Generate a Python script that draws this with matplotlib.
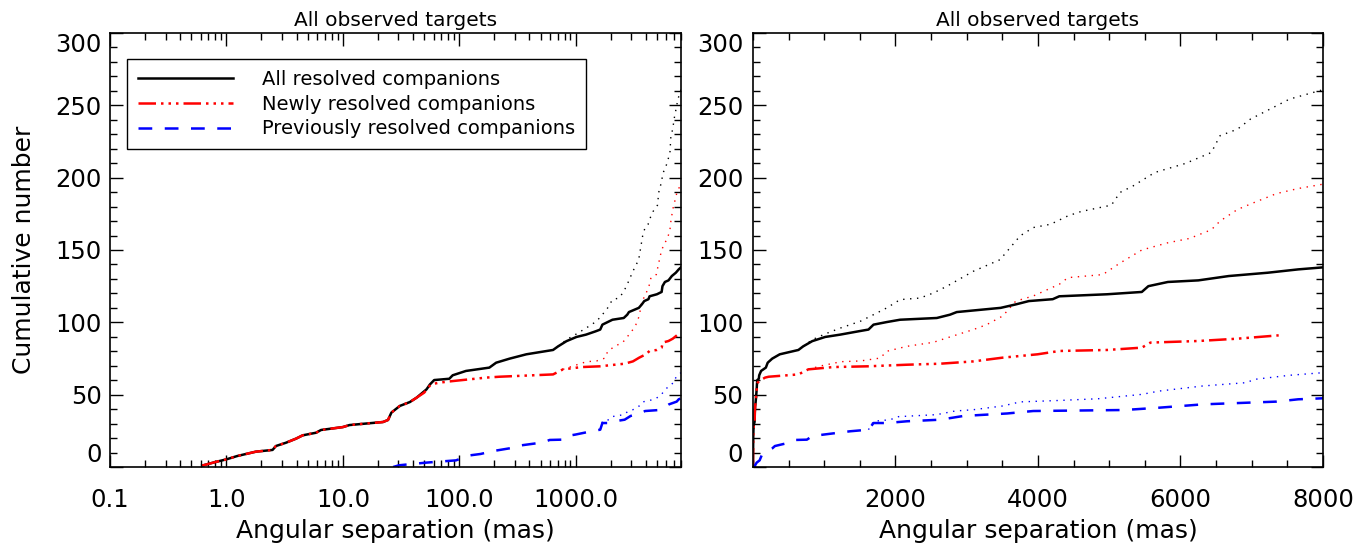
#
# Cumulative number of resolved companions vs angular separation
#

import matplotlib
matplotlib.use("Agg")
from matplotlib import pyplot as plt
from matplotlib.ticker import LogLocator, MultipleLocator, NullFormatter, FixedLocator

# All resolved companions (solid black), separations in mas
sep_all = [0.62, 0.81, 1.0, 1.24, 1.79, 2.49, 2.66, 3.25, 3.96, 4.52, 5.89, 6.5,
           10.0, 11.4, 22.1, 24.4, 26.1, 30.8, 37.6, 42.9, 52.3, 55.8, 60.8, 82,
           87.7, 114, 181, 207, 270, 376, 638, 705, 832, 1014, 1224, 1481, 1621,
           1692, 1879, 2065, 2580, 2766, 2860, 3476, 3689, 3872, 4207, 4299, 4970,
           5457, 5549, 5823, 6250, 6677, 7226, 7652, 8000]
n_all = [1, 3.5, 5.3, 7.6, 10.6, 11.8, 14.5, 16.8, 19.6, 21.9, 23.7, 25.6,
         27.6, 29, 31.1, 32.5, 37.6, 42.2, 44.9, 47.9, 53.7, 57, 60.1, 61,
         63.4, 66.4, 68.7, 72.1, 74.9, 77.9, 80.9, 83.4, 87, 89.9, 91.5, 93.8, 95,
         98.4, 100.2, 101.8, 103, 105.3, 107.1, 110, 112.4, 114.7, 116, 118, 119.4,
         121, 125, 127.9, 129, 132, 134.3, 136.6, 138]

# dotted black
sep_all_dot = [705, 832, 1014, 1224, 1505, 1692, 1879, 2065, 2346, 2533, 2720,
               3093, 3467, 3750, 3933, 4177, 4421, 4604, 5030, 5152, 5335, 5640,
               6067, 6433, 6555, 6799, 6982, 7348, 7530, 8000]
n_all_dot = [83.4, 88, 92, 96, 100.7, 105.3, 110, 115.7, 116.8, 120.3, 124.9,
             135.3, 143.3, 159.8, 165.5, 167.8, 173.6, 176.6, 181, 189.8, 194.3, 203.6,
             209.8, 217.4, 229, 233.5, 240.5, 249.7, 254.3, 260.8]

# Newly resolved companions (red), same as all up to ~43 mas
sep_new = sep_all[:20] + [49.9, 57, 67, 87.7, 170, 221, 638, 777, 1131, 1610,
                          2159, 2626, 3093, 3506, 3994, 4299, 4970, 5457, 5579,
                          6250, 6799, 7378]
n_new = n_all[:20] + [51.4, 57.1, 58.3, 59.4, 61.8, 62.4, 64, 67.5, 69.1, 69.6,
                      70.7, 71.4, 73, 75.6, 77.9, 80.2, 80.9, 82.5, 86,
                      87.1, 88.7, 91]

sep_new_dot = [777, 945, 1236, 1507, 1785, 1879, 2159, 2533, 2720, 3093, 3280,
               3506, 3689, 3933, 4299, 4421, 4909, 5152, 5457, 5823, 6128, 6433,
               6555, 6799, 7043, 7348, 7652, 8000]
n_new_dot = [67.5, 69.8, 72.8, 73.3, 75.3, 80, 83.4, 86.2, 89.2, 95, 98.4,
             104.4, 114.7, 118.2, 126.3, 130.9, 133, 141, 150, 155, 158, 164,
             170, 178, 183, 189, 192.5, 195.5]

# Previously resolved companions (blue)
sep_prev = [27, 30.4, 51.6, 93.6, 122, 152, 194, 274, 308, 523, 597, 757, 832,
            990, 1364, 1621, 1692, 1879, 2159, 2626, 2957, 3567, 3933, 5213,
            5701, 6311, 7348, 7652, 8000]
n_prev = [0, 1.2, 3, 4.6, 8, 9, 11, 13, 14.5, 17, 18.7, 18.9, 21.4,
          22.4, 24.7, 25.8, 30.4, 30.4, 31.6, 32.7, 35.3, 37, 38.7, 39.4,
          41, 43.3, 45.2, 46.8, 47.5]

sep_prev_dot = [1621, 1692, 1925, 2043, 2580, 2835, 3093, 3506, 3750, 4299,
                4848, 5213, 5457, 5701, 6311, 6921, 7043, 7530, 8000]
n_prev_dot = [25.8, 31.6, 32.7, 34.8, 36.2, 38.7, 39.6, 42.2, 45, 46,
              47.2, 49, 50.2, 52.5, 56, 58.3, 60.6, 63.4, 65.2]

log_ticks = [0.1, 1.0, 10.0, 100.0, 1000.0]
log_labels = ["0.1", "1.0", "10.0", "100.0", "1000.0"]
lin_ticks = [2000, 4000, 6000, 8000]
y_ticks = [0, 50, 100, 150, 200, 250, 300]

plt.rcParams['font.family'] = ['DejaVu Sans']

fig = plt.figure(figsize=(13.71, 5.48), dpi=100)
ax1 = fig.add_axes([0.0802, 0.1478, 0.4165, 0.792])
ax2 = fig.add_axes([0.5492, 0.1478, 0.4158, 0.792])

dash3dot = (0, (7, 2, 1, 2, 1, 2, 1, 2))
dashed = (0, (5.5, 5))
dots = (0, (1, 4))

for ax in (ax1, ax2):
    ax.plot(sep_all_dot, n_all_dot, color='black', lw=1.0, ls=dots)
    ax.plot(sep_new_dot, n_new_dot, color='red', lw=1.0, ls=dots)
    ax.plot(sep_prev_dot, n_prev_dot, color='blue', lw=1.0, ls=dots)
    ax.plot(sep_all, n_all, color='black', lw=1.8, label='All resolved companions')
    ax.plot(sep_new, n_new, color='red', lw=1.8, ls=dash3dot,
            label='Newly resolved companions')
    ax.plot(sep_prev, n_prev, color='blue', lw=1.8, ls=dashed,
            label='Previously resolved companions')

    ax.set_ylim(0, 300)
    ax.yaxis.set_major_locator(FixedLocator(y_ticks))
    ax.yaxis.set_minor_locator(MultipleLocator(10))
    ax.set_title("All observed targets", fontsize=14.5, pad=5)
    ax.tick_params(which='both', direction='in', top=True, right=True,
                   width=1.0, labelsize=17.5)
    ax.tick_params(which='major', length=9)
    ax.tick_params(which='minor', length=5)
    ax.tick_params(axis='x', pad=15)
    ax.set_xlabel("Angular separation (mas)", fontsize=18)
    ax.xaxis.set_label_coords(0.5, -0.12)
    for s in ax.spines.values():
        s.set_linewidth(1.2)
    yt = ax.yaxis.get_major_ticks()
    yt[0].label1.set_va('bottom')
    yt[-1].label1.set_va('top')

ax1.set_xscale('log')
ax1.set_xlim(0.1, 8000)
ax1.xaxis.set_major_locator(FixedLocator(log_ticks))
ax1.set_xticklabels(log_labels)
ax1.xaxis.set_minor_locator(LogLocator(base=10, subs=range(2, 10)))
ax1.xaxis.set_minor_formatter(NullFormatter())
ax1.tick_params(axis='y', pad=6)
ax1.set_ylabel("Cumulative number", fontsize=18)
ax1.yaxis.set_label_coords(-0.13, 0.5)

ax2.set_xlim(0, 8000)
ax2.xaxis.set_major_locator(FixedLocator(lin_ticks))
ax2.xaxis.set_minor_locator(MultipleLocator(500))
ax2.tick_params(axis='y', pad=7)

leg = ax1.legend(loc='upper left', bbox_to_anchor=(0.0298, 0.940), borderaxespad=0,
                 fontsize=14, handlelength=4.9, handletextpad=1.5, borderpad=0.55,
                 labelspacing=0.3, fancybox=False, framealpha=1)
leg.get_frame().set_edgecolor('black')
leg.get_frame().set_linewidth(1.0)

fig.savefig("out.png", dpi=100)
